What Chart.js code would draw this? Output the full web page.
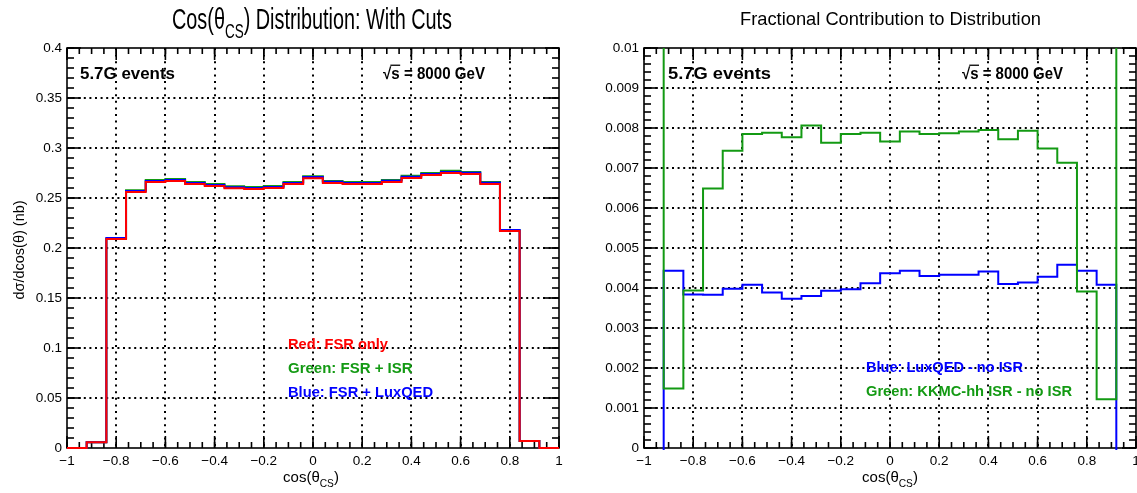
<!DOCTYPE html>
<html>
<head>
<meta charset="utf-8">
<script src="https://cdn.jsdelivr.net/npm/chart.js@4/dist/chart.umd.min.js"></script>
<style>
  html, body { margin: 0; padding: 0; background: #ffffff; }
  #wrap { position: relative; width: 1137px; height: 493px; overflow: hidden; }
  #wrap canvas { position: absolute; left: 0; top: 0; }
</style>
</head>
<body>
<div id="wrap">
  <canvas id="cutsChart" width="1137" height="493"></canvas>
  <canvas id="fracChart" width="1137" height="493"></canvas>
</div>
<script>
// cos(theta_CS) binning: 25 bins of width 0.08 between -1 and 1
const binEdges = [-1, -0.92, -0.84, -0.76, -0.68, -0.6, -0.52, -0.44, -0.36, -0.28, -0.2, -0.12, -0.04,
                  0.04, 0.12, 0.2, 0.28, 0.36, 0.44, 0.52, 0.6, 0.68, 0.76, 0.84, 0.92, 1];

// dsigma/dcos(theta) in nb, one value per bin
const xsFsrOnly = [0, 0.0057, 0.2090, 0.2560, 0.2660, 0.2670, 0.2640, 0.2620, 0.2597, 0.2590, 0.2600, 0.2640, 0.2697,
                   0.2650, 0.2640, 0.2640, 0.2660, 0.2700, 0.2730, 0.2750, 0.2740, 0.2640, 0.2170, 0.0070, 0];
const xsFsrIsr  = [0, 0.0057, 0.2093, 0.2577, 0.2680, 0.2691, 0.2661, 0.2640, 0.2618, 0.2610, 0.2621, 0.2661, 0.2718,
                   0.2671, 0.2661, 0.2661, 0.2681, 0.2722, 0.2751, 0.2772, 0.2761, 0.2659, 0.2178, 0.0070, 0];
const xsFsrLux  = [0, 0.0057, 0.2099, 0.2570, 0.2671, 0.2681, 0.2650, 0.2630, 0.2607, 0.2600, 0.2610, 0.2651, 0.2709,
                   0.2662, 0.2651, 0.2651, 0.2672, 0.2712, 0.2741, 0.2761, 0.2752, 0.2652, 0.2180, 0.0070, 0];

// fractional contributions per bin (edge bins run off the frame)
const fracLuxQed = [-0.0005, 0.00443, 0.00384, 0.00383, 0.00398, 0.00408, 0.00389, 0.00373, 0.00380, 0.00393, 0.00397, 0.00412, 0.00437,
                    0.00443, 0.00430, 0.00433, 0.00433, 0.00441, 0.00410, 0.00414, 0.00428, 0.00458, 0.00443, 0.00408, -0.0005];
const fracKkmcIsr = [0.012, 0.00149, 0.00394, 0.00649, 0.00743, 0.00785, 0.00788, 0.00777, 0.00806, 0.00763, 0.00785, 0.00788, 0.00766,
                     0.00791, 0.00785, 0.00787, 0.00791, 0.00795, 0.00772, 0.00793, 0.00749, 0.00713, 0.00391, 0.00122, 0.012];

// axis ticks
const xTickValues = [-1, -0.8, -0.6, -0.4, -0.2, 0, 0.2, 0.4, 0.6, 0.8, 1];
const xTickLabels = ['\u22121', '\u22120.8', '\u22120.6', '\u22120.4', '\u22120.2', '0', '0.2', '0.4', '0.6', '0.8', '1'];
const yTickValuesCuts = [0, 0.05, 0.1, 0.15, 0.2, 0.25, 0.3, 0.35, 0.4];
const yTickLabelsCuts = ['0', '0.05', '0.1', '0.15', '0.2', '0.25', '0.3', '0.35', '0.4'];
const yTickValuesFrac = [0, 0.001, 0.002, 0.003, 0.004, 0.005, 0.006, 0.007, 0.008, 0.009, 0.01];
const yTickLabelsFrac = ['0', '0.001', '0.002', '0.003', '0.004', '0.005', '0.006', '0.007', '0.008', '0.009', '0.01'];

const RED = '#ff0000', GREEN = '#139a13', BLUE = '#0000ff';
const FONT = '"Liberation Sans", Arial, Helvetica, sans-serif';

// step outline of a histogram: one point per left bin edge plus the closing right edge
function histPoints(values) {
  const pts = values.map((v, i) => ({ x: binEdges[i], y: v }));
  pts.push({ x: binEdges[values.length], y: values[values.length - 1] });
  return pts;
}

function histDataset(values, color) {
  return {
    data: histPoints(values),
    borderColor: color,
    borderWidth: 2,
    stepped: 'before',
    fill: false,
    pointRadius: 0,
    borderJoinStyle: 'miter',
    borderCapStyle: 'butt',
    clip: { left: 0, top: 0, right: 0, bottom: 2 }
  };
}

// draws a run of text pieces (optionally subscripted / overlined), squeezed to a given width
function drawRich(ctx, parts, x, y, o) {
  const size = o.size, weight = o.weight || 'normal';
  const fontFor = p => `${weight} ${p.sub ? size * 0.68 : size}px ${FONT}`;
  let total = 0;
  const widths = parts.map(p => { ctx.font = fontFor(p); const w = ctx.measureText(p.t).width; total += w; return w; });
  const sx = o.width ? o.width / total : 1;
  const drawn = total * sx;
  ctx.save();
  ctx.translate(x, y);
  if (o.rotate) ctx.rotate(o.rotate);
  let x0 = 0;
  if (o.align === 'center') x0 = -drawn / 2;
  else if (o.align === 'right') x0 = -drawn;
  ctx.fillStyle = o.color || '#000';
  ctx.textBaseline = 'alphabetic';
  ctx.textAlign = 'left';
  let cx = x0;
  parts.forEach((p, i) => {
    ctx.save();
    ctx.translate(cx, p.sub ? size * 0.32 : 0);
    ctx.scale(sx, 1);
    ctx.font = fontFor(p);
    ctx.fillText(p.t, 0, 0);
    if (p.over) {
      ctx.strokeStyle = o.color || '#000';
      ctx.lineWidth = 1.3;
      ctx.beginPath();
      ctx.moveTo(-1, -size * 0.86);
      ctx.lineTo(widths[i] + 0.5, -size * 0.86);
      ctx.stroke();
    }
    ctx.restore();
    cx += widths[i] * sx;
  });
  ctx.restore();
}

function seqTicks(min, max, step) {
  const out = [];
  for (let k = 0; min + k * step <= max + step * 1e-6; k++) out.push(min + k * step);
  return out;
}

// ROOT-like frame: dotted grid, boxed frame, inward ticks, tick labels and captions
const rootStyle = {
  id: 'rootStyle',
  beforeDatasetsDraw(chart, args, opts) {
    const { ctx, chartArea: a, scales: { x, y } } = chart;
    ctx.save();
    ctx.strokeStyle = '#000';
    // grid
    ctx.lineWidth = 2;
    ctx.setLineDash([2, 4.6]);
    opts.xMajor.forEach(v => {
      const px = Math.round(x.getPixelForValue(v));
      if (px <= a.left + 1 || px >= a.right - 1) return;
      ctx.beginPath(); ctx.moveTo(px, a.top); ctx.lineTo(px, a.bottom); ctx.stroke();
    });
    ctx.setLineDash([2, 3.6]);
    opts.yMajor.forEach(v => {
      const py = Math.round(y.getPixelForValue(v));
      if (py <= a.top + 1 || py >= a.bottom - 1) return;
      ctx.beginPath(); ctx.moveTo(a.left, py); ctx.lineTo(a.right, py); ctx.stroke();
    });
    ctx.setLineDash([]);
    // frame
    ctx.lineWidth = 1.6;
    ctx.strokeRect(a.left, a.top, a.right - a.left, a.bottom - a.top);
    // ticks
    ctx.lineWidth = 1.6;
    const xt = (v, len) => {
      const px = x.getPixelForValue(v);
      ctx.beginPath(); ctx.moveTo(px, a.bottom); ctx.lineTo(px, a.bottom - len); ctx.stroke();
      ctx.beginPath(); ctx.moveTo(px, a.top); ctx.lineTo(px, a.top + len); ctx.stroke();
    };
    const yt = (v, len) => {
      const py = y.getPixelForValue(v);
      ctx.beginPath(); ctx.moveTo(a.left, py); ctx.lineTo(a.left + len, py); ctx.stroke();
      ctx.beginPath(); ctx.moveTo(a.right, py); ctx.lineTo(a.right - len, py); ctx.stroke();
    };
    opts.xMinor.forEach(v => xt(v, 6));
    opts.xMajor.forEach(v => xt(v, 12));
    opts.yMinor.forEach(v => yt(v, 7));
    opts.yMajor.forEach(v => yt(v, 14));
    ctx.restore();
  },
  afterDraw(chart, args, opts) {
    const { ctx, chartArea: a, scales: { x, y } } = chart;
    ctx.save();
    ctx.fillStyle = '#000';
    ctx.font = `13.5px ${FONT}`;
    ctx.textAlign = 'center';
    ctx.textBaseline = 'alphabetic';
    opts.xMajor.forEach((v, i) => ctx.fillText(opts.xLabels[i], x.getPixelForValue(v), a.bottom + 17));
    ctx.textAlign = 'right';
    ctx.textBaseline = 'middle';
    opts.yMajor.forEach((v, i) => ctx.fillText(opts.yLabels[i], a.left - 5, y.getPixelForValue(v)));
    ctx.restore();
    opts.texts.forEach(t => drawRich(ctx, t.parts, t.x, t.y, t));
  }
};

function makeChart(id, datasets, yMax, padding, style) {
  return new Chart(document.getElementById(id), {
    type: 'line',
    data: { datasets },
    options: {
      responsive: false,
      animation: false,
      events: [],
      layout: { padding },
      plugins: { legend: { display: false }, tooltip: { enabled: false }, title: { display: false }, rootStyle: style },
      scales: {
        x: { type: 'linear', min: -1, max: 1, display: false },
        y: { type: 'linear', min: 0, max: yMax, display: false }
      }
    },
    plugins: [rootStyle]
  });
}

const xMinor = seqTicks(-1, 1, 0.05);
const sqrtS = [{ t: '\u221A' }, { t: 's', over: true }, { t: ' = 8000 GeV' }];
const cosTitle = [{ t: 'cos(\u03B8' }, { t: 'CS', sub: true }, { t: ')' }];

// left pad: cross section with cuts
makeChart('cutsChart', [
  histDataset(xsFsrOnly, RED),
  histDataset(xsFsrLux, BLUE),
  histDataset(xsFsrIsr, GREEN)
], 0.4, { left: 67, top: 48, right: 578, bottom: 45 }, {
  xMajor: xTickValues, xLabels: xTickLabels, xMinor,
  yMajor: yTickValuesCuts, yLabels: yTickLabelsCuts, yMinor: seqTicks(0, 0.4, 0.01),
  texts: [
    { parts: [{ t: 'Cos(\u03B8' }, { t: 'CS', sub: true }, { t: ') Distribution: With Cuts' }], x: 172, y: 29, size: 29, width: 280 },
    { parts: [{ t: '5.7G events' }], x: 80, y: 79, size: 16.5, weight: 'bold', width: 95 },
    { parts: sqrtS, x: 383, y: 79, size: 16, weight: 'bold', width: 102 },
    { parts: [{ t: 'Red: FSR only' }], x: 288, y: 349, size: 15, weight: 'bold', color: RED, width: 100 },
    { parts: [{ t: 'Green: FSR + ISR' }], x: 288, y: 373, size: 15, weight: 'bold', color: GREEN },
    { parts: [{ t: 'Blue: FSR + LuxQED' }], x: 288, y: 397, size: 15, weight: 'bold', color: BLUE, width: 145 },
    { parts: cosTitle, x: 311, y: 482, size: 15, align: 'center' },
    { parts: [{ t: 'd\u03C3/dcos(\u03B8) (nb)' }], x: 24, y: 250, size: 14.5, align: 'center', rotate: -Math.PI / 2 }
  ]
});

// right pad: fractional contributions
makeChart('fracChart', [
  histDataset(fracKkmcIsr, GREEN),
  histDataset(fracLuxQed, BLUE)
], 0.01, { left: 644, top: 48, right: 1, bottom: 45 }, {
  xMajor: xTickValues, xLabels: xTickLabels, xMinor,
  yMajor: yTickValuesFrac, yLabels: yTickLabelsFrac, yMinor: seqTicks(0, 0.01, 0.0002),
  texts: [
    { parts: [{ t: 'Fractional Contribution to Distribution' }], x: 740, y: 25, size: 18.5, width: 301 },
    { parts: [{ t: '5.7G events' }], x: 668, y: 79, size: 16.5, weight: 'bold', width: 103 },
    { parts: sqrtS, x: 962, y: 79, size: 16, weight: 'bold', width: 101 },
    { parts: [{ t: 'Blue: LuxQED - no ISR' }], x: 866, y: 372, size: 15, weight: 'bold', color: BLUE, width: 157 },
    { parts: [{ t: 'Green: KKMC-hh ISR - no ISR' }], x: 866, y: 396, size: 15, weight: 'bold', color: GREEN, width: 206 },
    { parts: cosTitle, x: 890, y: 482, size: 15, align: 'center' }
  ]
});
</script>
</body>
</html>
